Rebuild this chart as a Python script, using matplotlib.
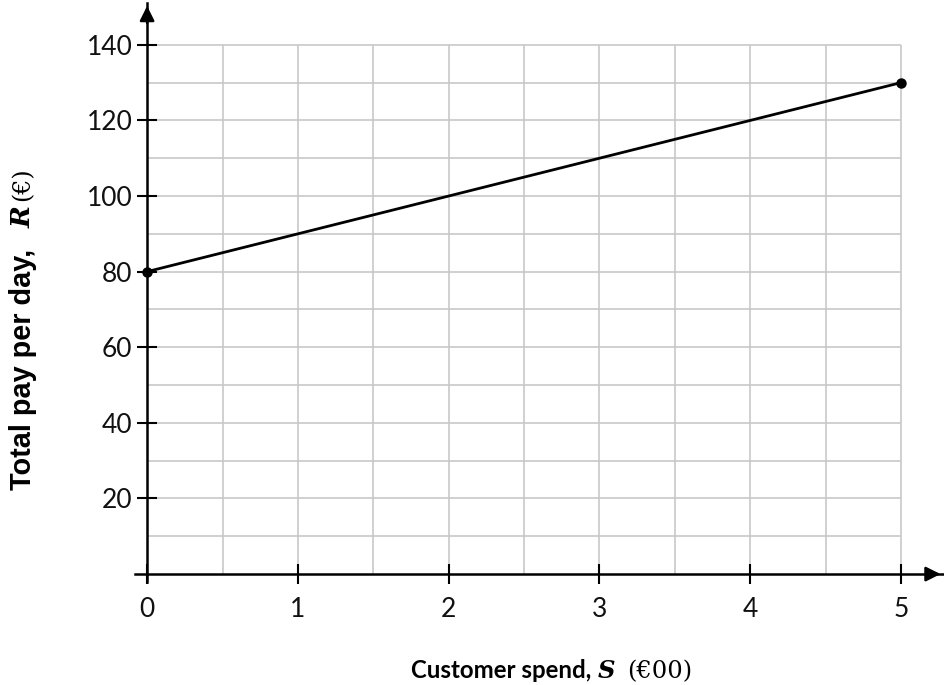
import numpy as np
import matplotlib.pyplot as plt

# data
spend = [0, 5]          # S (€00)
pay = [80, 130]         # R (€)
x_ticks = [0, 1, 2, 3, 4, 5]
y_ticks = [20, 40, 60, 80, 100, 120, 140]
x_grid = np.arange(0.5, 5.01, 0.5)
y_grid = np.arange(10, 140.1, 10)

fig = plt.figure(figsize=(9.45, 6.85), dpi=100)
ax = fig.add_axes([0.1429, 0.1509, 0.8553, 0.8444])
ax.set_xlim(-0.08, 5.28)
ax.set_ylim(-2, 151)

# grid only inside the 0..5 x 0..140 box
ax.vlines(x_grid, 0, 140, color='#c8c8c8', lw=1.2, zorder=1)
ax.hlines(y_grid, 0, 5, color='#c8c8c8', lw=1.2, zorder=1)

# axes through the origin
for s in ['top', 'right']:
    ax.spines[s].set_visible(False)
ax.spines['left'].set_position(('data', 0))
ax.spines['bottom'].set_position(('data', 0))
ax.spines['left'].set_linewidth(1.8)
ax.spines['bottom'].set_linewidth(1.8)
ax.annotate('', xy=(0, 151), xytext=(0, 145),
            arrowprops=dict(arrowstyle='-|>', mutation_scale=22, color='black', lw=1.8),
            annotation_clip=False)
ax.annotate('', xy=(5.28, 0), xytext=(5.2, 0),
            arrowprops=dict(arrowstyle='-|>', mutation_scale=22, color='black', lw=1.8),
            annotation_clip=False)

ax.set_xticks(x_ticks)
ax.set_yticks(y_ticks)
ax.tick_params(direction='inout', length=15, width=1.5, labelsize=19)
ax.tick_params(axis='x', pad=9)
ax.tick_params(axis='y', pad=3)
for lab in ax.get_xticklabels() + ax.get_yticklabels():
    lab.set_fontfamily('Lato')
    lab.set_color('#111111')

# the line
ax.plot(spend, pay, color='black', lw=2, marker='o', markersize=6.5, zorder=5, clip_on=False)

# x label in pieces
yb = 1 - 678 / 685
fig.text(411 / 945, yb, 'Customer spend,', family='Lato', fontweight='bold',
         fontsize=17.3, ha='left', va='baseline')
fig.text(598 / 945, yb, 'S', family='DejaVu Serif', fontweight='bold',
         style='italic', fontsize=17.5, ha='left', va='baseline')
fig.text(627 / 945, yb, '(€00)', family='DejaVu Serif',
         fontsize=17.5, ha='left', va='baseline')

# y label in pieces
fig.text(23 / 945, 1 - 490 / 685, 'Total pay per day,', family='Liberation Sans',
         fontweight='bold', fontsize=20.8, rotation=90, ha='center', va='bottom')
fig.text(23 / 945, 1 - 228 / 685, 'R', family='DejaVu Serif', fontweight='bold',
         style='italic', fontsize=19, rotation=90, ha='center', va='bottom')
fig.text(23 / 945, 1 - 201 / 685, '(€)', family='DejaVu Serif',
         fontsize=17, rotation=90, ha='center', va='bottom')

fig.savefig('out.png', dpi=100)
